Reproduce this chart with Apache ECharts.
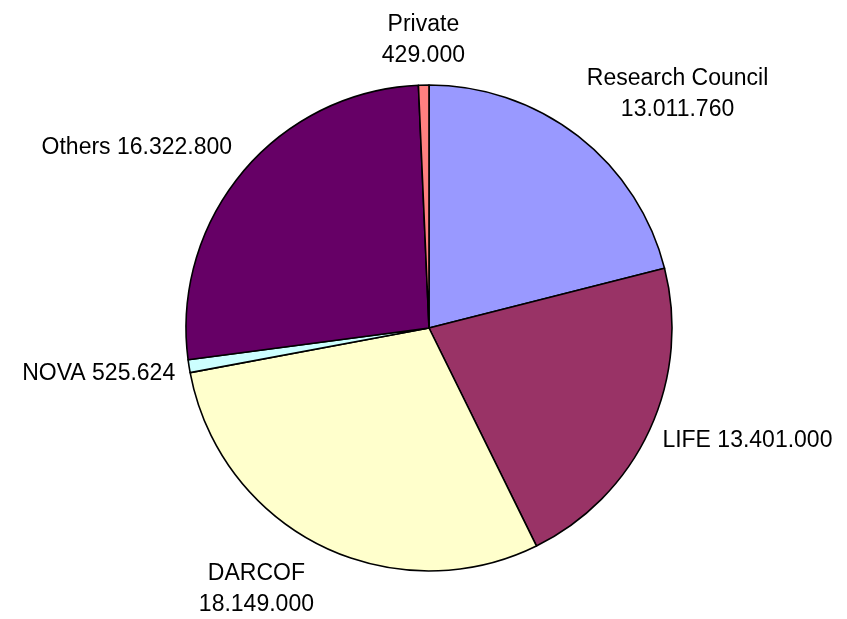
<!DOCTYPE html>
<html>
<head>
<meta charset="utf-8">
<script src="https://cdn.jsdelivr.net/npm/echarts@6/dist/echarts.min.js"></script>
<style>html,body{margin:0;padding:0;background:#fff;}#c{width:847px;height:619px;}</style>
</head>
<body>
<div id="c"></div>
<script>
const categories = ['Research Council', 'LIFE', 'DARCOF', 'NOVA', 'Others', 'Private'];
const values = [13011760, 13401000, 18149000, 525624, 16322800, 429000];
const colors = ['#9999FF', '#993366', '#FFFFCC', '#CCFFFF', '#660066', '#FF8080'];
const twoLineLabels = ['Research Council', 'DARCOF', 'Private'];

const CX = 429, CY = 328, R = 243, GAP = 14;
const total = values.reduce((a, b) => a + b, 0);
const cum = [];
values.reduce((acc, v, i) => { cum[i] = acc; return acc + v; }, 0);

function fmt(v) { return String(v).replace(/\B(?=(\d{3})+(?!\d))/g, '.'); }

const chart = echarts.init(document.getElementById('c'), null, { renderer: 'canvas' });
chart.setOption({
  backgroundColor: '#ffffff',
  animation: false,
  series: [{
    type: 'pie',
    center: [CX, CY],
    radius: [0, R],
    startAngle: 90,
    clockwise: true,
    avoidLabelOverlap: false,
    data: categories.map((c, i) => ({ name: c, value: values[i], itemStyle: { color: colors[i] } })),
    itemStyle: { borderColor: '#000', borderWidth: 1.6 },
    emphasis: { disabled: true },
    label: {
      show: true,
      position: 'outside',
      color: '#000',
      fontFamily: 'Liberation Sans, Arial, sans-serif',
      fontSize: 23,
      lineHeight: 31,
      align: 'center',
      formatter: p => twoLineLabels.includes(p.name) ? p.name + '\n' + fmt(p.value) : p.name + ' ' + fmt(p.value)
    },
    labelLine: { show: false },
    labelLayout: function (params) {
      const i = params.dataIndex;
      const mid = (cum[i] + values[i] / 2) / total * 2 * Math.PI;
      const dx = Math.sin(mid), dy = -Math.cos(mid);
      const px = CX + (R + GAP) * dx, py = CY + (R + GAP) * dy;
      const w = params.labelRect.width, h = params.labelRect.height;
      const sx = Math.abs(dx) < 0.2 ? 0 : (dx > 0 ? 1 : -1);
      const sy = Math.abs(dy) < 0.5 ? (dy > 0.1 ? 0.35 : 0) : (dy > 0 ? 1 : -1);
      return { x: px + sx * w / 2, y: py + sy * h / 2, align: 'center', verticalAlign: 'middle' };
    }
  }]
});
</script>
</body>
</html>
